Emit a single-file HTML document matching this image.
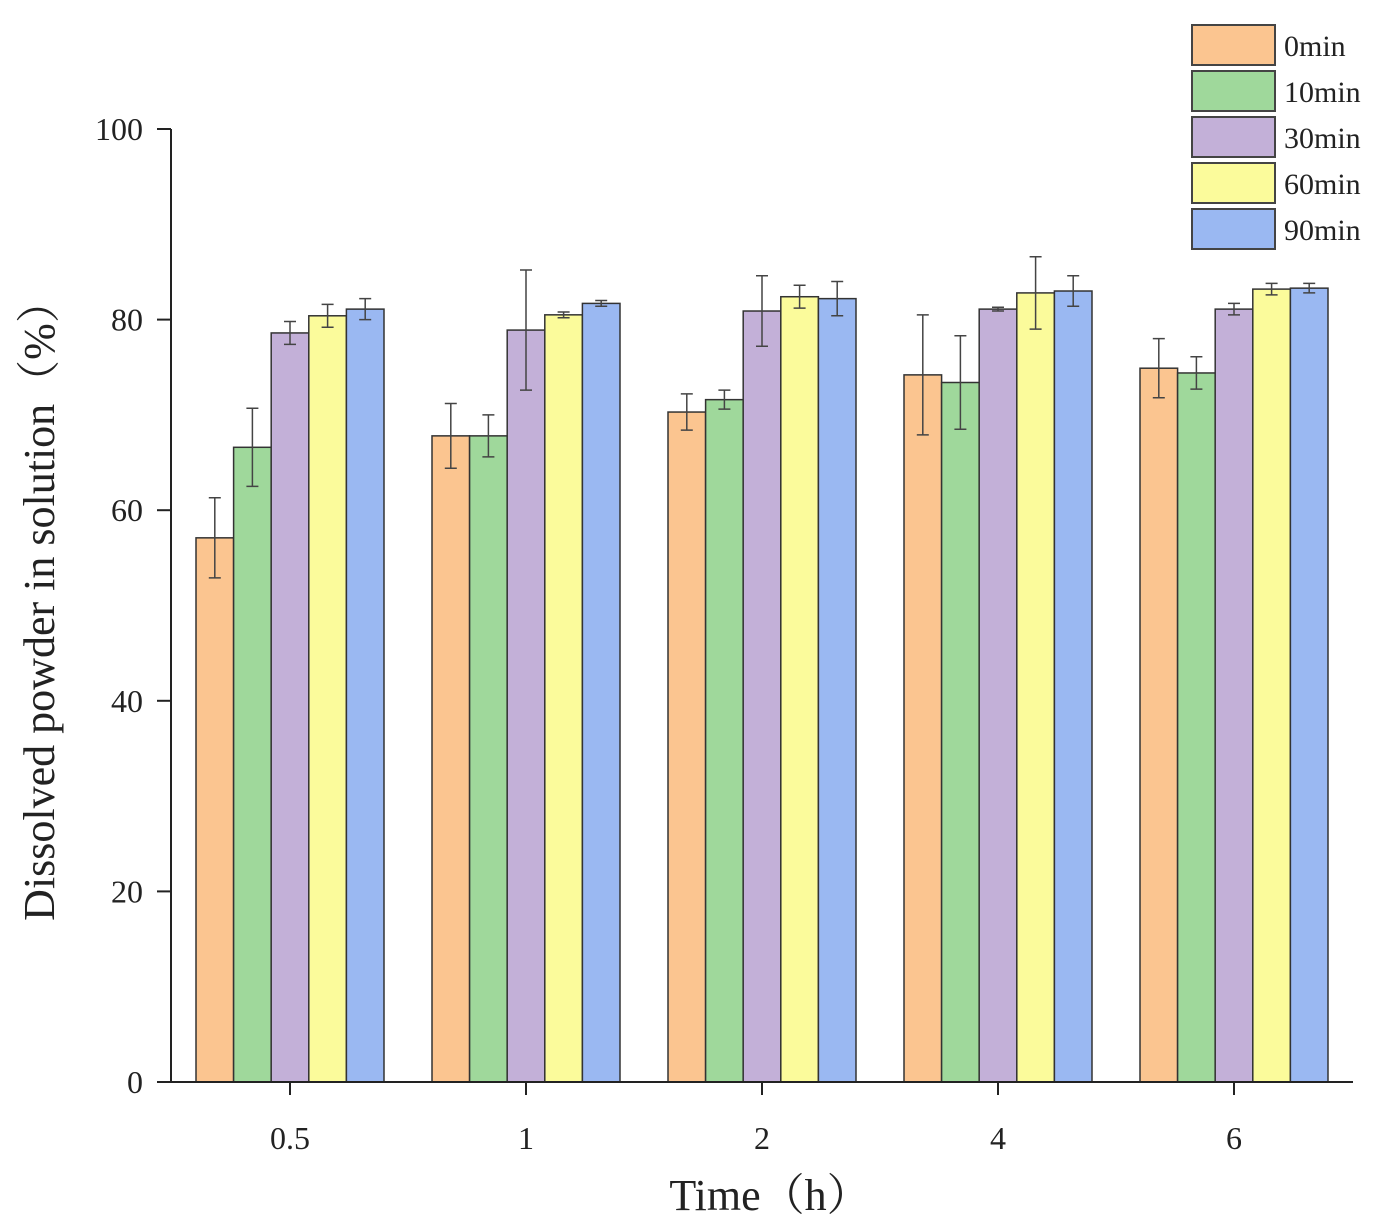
<!DOCTYPE html>
<html><head><meta charset="utf-8"><style>
body{margin:0;background:#fff}
svg{display:block;font-family:"Liberation Serif","Noto Serif CJK SC",serif}
</style></head><body>
<svg id="chart" width="1393" height="1229"></svg>
<script>
const categories=["0.5","1","2","4","6"];
const seriesNames=["0min","10min","30min","60min","90min"];
const s0=[57.1,67.8,70.3,74.2,74.9];
const s1=[66.6,67.8,71.6,73.4,74.4];
const s2=[78.6,78.9,80.9,81.1,81.1];
const s3=[80.4,80.5,82.4,82.8,83.2];
const s4=[81.1,81.7,82.2,83.0,83.3];
const e0=[4.2,3.4,1.9,6.3,3.1];
const e1=[4.1,2.2,1.0,4.9,1.7];
const e2=[1.2,6.3,3.7,0.2,0.6];
const e3=[1.2,0.3,1.2,3.8,0.6];
const e4=[1.1,0.3,1.8,1.6,0.5];
const yTicks=[0,20,40,60,80,100];
const series=[s0,s1,s2,s3,s4];
const errs=[e0,e1,e2,e3,e4];
const colors=["#fbc590","#9fd89b","#c3b0d8","#fbfb9b","#9ab8f2"];
const NS="http://www.w3.org/2000/svg";
const svg=document.getElementById('chart');
const X0=171,X1=1353,Y0=1082,Y1=129;
const y=v=>Y0-(v/100)*(Y0-Y1);
const groupW=236,barW=37.6;
const xc=i=>290+i*groupW;
function el(t,a,p){const e=document.createElementNS(NS,t);for(const k in a)e.setAttribute(k,a[k]);(p||svg).appendChild(e);return e;}
series.forEach((s,si)=>{
  s.forEach((v,i)=>{
    const x=xc(i)-2.5*barW+si*barW;
    const r=el('rect',{x:x,y:y(v),width:barW,height:Y0-y(v),fill:colors[si],stroke:"#333","stroke-width":1.5});
    
    
    const cx=x+barW/2,e=errs[si][i];
    const g=el('path',{d:`M${cx},${y(v-e)}V${y(v+e)}M${cx-6},${y(v-e)}H${cx+6}M${cx-6},${y(v+e)}H${cx+6}`,stroke:"#444","stroke-width":1.5,fill:"none"});
    
    
  });
});
const ax=el('path',{d:`M${X0},${Y1}V${Y0}H${X1}`,stroke:"#222","stroke-width":2,fill:"none"});


yTicks.forEach(t=>{
  el('line',{x1:X0-14,x2:X0,y1:y(t),y2:y(t),stroke:"#222","stroke-width":2});
  const tx=el('text',{x:X0-28,y:y(t)+11,"text-anchor":"end","font-size":32,fill:"#222"});
  tx.textContent=t;
  
  
});
categories.forEach((c,i)=>{
  el('line',{x1:xc(i),x2:xc(i),y1:Y0,y2:Y0+13,stroke:"#222","stroke-width":2});
  const tx=el('text',{x:xc(i),y:1149,"text-anchor":"middle","font-size":32,fill:"#222"});
  tx.textContent=c;
  
  
});
const xt=el('text',{x:770,y:1210,"text-anchor":"middle","font-size":44,fill:"#222"});
xt.textContent="Time（h）";


const yt=el('text',{x:0,y:0,"text-anchor":"middle","font-size":44,fill:"#222",transform:"translate(54,600) rotate(-90)"});
yt.textContent="Dissolved powder in solution（%）";


seriesNames.forEach((n,si)=>{
  const ty=25+si*46;
  const r=el('rect',{x:1192,y:ty,width:83,height:40,fill:colors[si],stroke:"#444","stroke-width":2});
  
  
  const t=el('text',{x:1284,y:ty+31,"font-size":30,fill:"#222"});
  t.textContent=n;
  
  
});
</script>
</body></html>
